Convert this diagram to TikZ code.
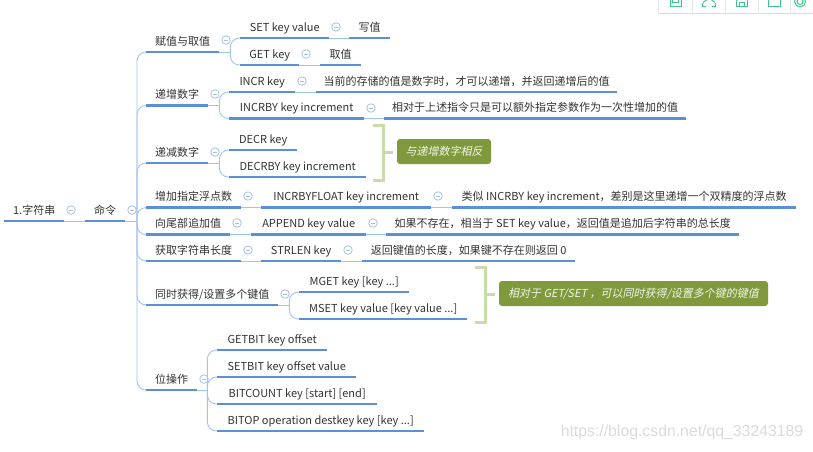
\documentclass[tikz,border=0pt]{standalone}
\usepackage{fontspec}
\setmainfont{Noto Sans CJK SC}
\newfontfamily\notefont[FakeSlant=0.2]{Noto Sans CJK SC}
\newfontfamily\markfont{Liberation Sans}
\definecolor{topicblue}{HTML}{5B8FD8}
\definecolor{linkblue}{HTML}{A3C4EE}
\definecolor{minusblue}{HTML}{A9BFE4}
\definecolor{bracegreen}{HTML}{C9DBA6}
\definecolor{notegreen}{HTML}{7F9A3C}
\definecolor{toolgreen}{HTML}{3CC88C}
\tikzset{
    topic/.style={anchor=south west,inner sep=0pt,minimum height=22pt,text height=10pt,text depth=1pt,font=\fontsize{11}{12}\selectfont,text=black!80},
    underline/.style={draw=topicblue,line width=2.4pt},
    link/.style={draw=linkblue,line width=0.9pt},
    collapse/.style={circle,draw=minusblue,line width=0.8pt,inner sep=0pt,minimum size=8.5pt,
        path picture={\draw[minusblue,line width=0.8pt] ([xshift=-2.2pt]path picture bounding box.center) -- ([xshift=2.2pt]path picture bounding box.center);}},
    bracket/.style={draw=bracegreen,line width=3pt},
    note/.style={fill=notegreen,rounded corners=3pt,inner sep=0pt,text=white!90!notegreen,font=\notefont\fontsize{11}{12}\selectfont},
    tool/.style={draw=toolgreen,line width=1pt},
}
\begin{document}
\begin{tikzpicture}[x=1pt,y=-1pt]
    \useasboundingbox[fill=white] (0,0) rectangle (813,451);
    % topics
    \foreach \nm/\xa/\xb/\yy/\txt in {
        root/4/64/221/{1.字符串},cmd/85/125/221/{命令},
        assign/146/219/52/{赋值与取值},incr/146/208/105.5/{递增数字},decr/146/208/163/{递减数字},
        float/146/241/207.5/{增加指定浮点数},append/146/230/234.5/{向尾部追加值},strlen/146/241/261/{获取字符串长度},
        multi/146/278/305/{同时获得/设置多个键值},bitop/146/197/390/{位操作},
        setkey/240/329/38/{SET key value},setnote/349/390/38/{写值},
        getkey/240/299/65/{GET key},getnote/320/361/65/{取值},
        incrkey/229/295/92/{INCR key},incrnote/316/617/92/{当前的存储的值是数字时，才可以递增，并返回递增后的值},
        incrby/229/364/118.5/{INCRBY key increment},incrbynote/384/686/118.5/{相对于上述指令只是可以额外指定参数作为一次性增加的值},
        decrkey/229/297/150/{DECR key},decrby/229/366/177/{DECRBY key increment},
        floatkey/261/431/207.5/{INCRBYFLOAT key increment},floatnote/452/796/207.5/{类似 INCRBY key increment，差别是这里递增一个双精度的浮点数},
        appendkey/251/366/234.5/{APPEND key value},appendnote/386/739/234.5/{如果不存在，相当于 SET key value，返回值是追加后字符串的总长度},
        strlenkey/261/341/261/{STRLEN key},strlennote/362/575/261/{返回键值的长度，如果键不存在则返回 0},
        mget/299/409/292/{MGET key [key ...]},mset/299/467/319/{MSET key value [key value ...]},
        getbit/217/327/350/{GETBIT key offset},setbit/217/356/377/{SETBIT key offset value},
        bitcount/217/377/404/{BITCOUNT key [start] [end]},bitopkey/217/424/431/{BITOP operation destkey key [key ...]}}
    {
        \node[topic,minimum width={(\xb-\xa)*1pt}] (\nm) at (\xa,\yy) {\txt};
    }
    % links
    \coordinate (hub) at (137,221);
    \draw[link] (root.south east) -- (cmd.south west);
    \draw[link] (cmd.south east) -- (hub);
    \foreach \t in {assign,incr,decr,float,append,strlen,multi,bitop}
        \draw[link,rounded corners=9pt] (hub) |- (\t.south west);
    \foreach \a/\b in {setkey/setnote,getkey/getnote,incrkey/incrnote,incrby/incrbynote,
        float/floatkey,floatkey/floatnote,append/appendkey,appendkey/appendnote,strlen/strlenkey,strlenkey/strlennote}
        \draw[link] (\a.south east) -- (\b.south west);
    \foreach \p/\dx/\kids in {assign/11/{setkey,getkey},incr/11/{incrkey,incrby},decr/11/{decrkey,decrby},
        multi/11/{mget,mset},bitop/10/{getbit,setbit,bitcount,bitopkey}}{
        \draw[link] (\p.south east) -- ++(\dx,0) coordinate (\p hub);
        \foreach \k in \kids
            \draw[link,rounded corners=9pt] (\p hub) |- (\k.south west);
    }
    \foreach \nm in {root,cmd,assign,incr,decr,float,append,strlen,multi,bitop,setkey,setnote,getkey,getnote,
        incrkey,incrnote,incrby,incrbynote,decrkey,decrby,floatkey,floatnote,appendkey,appendnote,
        strlenkey,strlennote,mget,mset,getbit,setbit,bitcount,bitopkey}
        \draw[underline] (\nm.south west) -- (\nm.south east);
    % collapse marks
    \foreach \x/\y [count=\i] in {71/210,132/210,226/40,215/94,215/152,248/196,237/223,248/250,285/294,204/379,
        336/27,306/54,302/81,371/108,438/196,373/223,348/250}
        \node[collapse] (minus\i) at (\x,\y) {};
    % brackets and notes
    \node[note,minimum width=94pt,minimum height=25pt] (sumdecr) at (444,151.5) {与递增数字相反};
    \node[note,minimum width=269pt,minimum height=25pt] (summulti) at (633.5,293.5) {相对于 GET/SET ，可以同时获得/设置多个键的键值};
    \coordinate (decrtop) at (373,125);
    \coordinate (decrend) at (373,180);
    \coordinate (multitop) at (475,267);
    \coordinate (multiend) at (475,322);
    \draw[bracket] (decrtop) -- ++(10.5,0) |- (decrend);
    \draw[bracket] (383.5,152) -- (393,152);
    \draw[bracket] (multitop) -- ++(10.5,0) |- (multiend);
    \draw[bracket] (485.5,294) -- (495,294);
    % toolbar
    \draw[black!15,line width=1pt] (658,13.5) -- (813,13.5);
    \foreach \x in {658,692,725,758,790}
        \draw[black!10,line width=1pt] (\x,0) -- (\x,13.5);
    \begin{scope}
        \clip (658,0) rectangle (813,13);
        \draw[tool] (670,-4) rectangle (681,6);
        \draw[tool] (672.5,-2) rectangle (678.5,2.5);
        \draw[tool] (703,2.5) -- (709,-2) -- (715,2.5) (702.5,3) -- (702.5,6.5) -- (706,6.5) (715.5,3) -- (715.5,6.5) -- (712,6.5);
        \draw[tool] (736,-4) rectangle (747,6);
        \draw[tool] (739,6) -- (739,2) -- (744,2) -- (744,6);
        \draw[tool] (768,-3) -- (768,6) -- (780,6) -- (780,-3);
        \draw[tool] (800,1.5) circle (3);
        \draw[tool] (800,1.5) circle (5.5);
    \end{scope}
    \node[font=\markfont\fontsize{15.8}{18}\selectfont,text=black!14,inner sep=0pt] (mark) at (682,432) {https://blog.csdn.net/qq\_33243189};
\end{tikzpicture}
\end{document}
